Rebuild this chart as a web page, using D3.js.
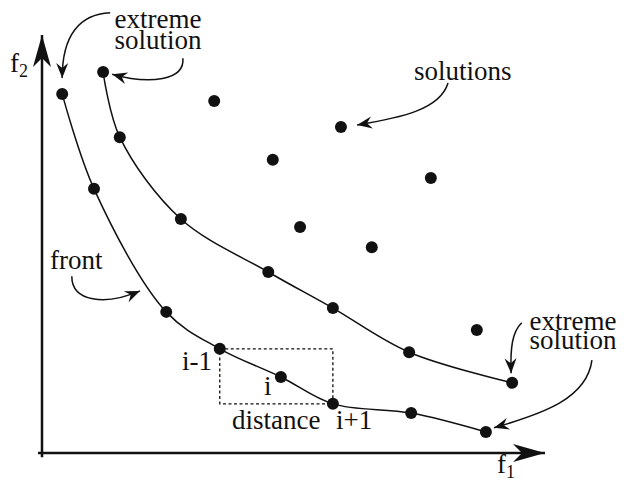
<!DOCTYPE html>
<html>
<head>
<meta charset="utf-8">
<script src="https://cdn.jsdelivr.net/npm/d3@7.9.0/dist/d3.min.js"></script>
<style>
  html, body { margin: 0; padding: 0; background: #fff; }
  svg { display: block; }
</style>
</head>
<body>
<svg width="624" height="485"></svg>
<script>
// objective values (f1, f2), arbitrary 0-100 units
const frontLower = [
  [4.0, 85.5], [10.3, 62.9], [24.6, 33.6], [35.2, 24.8],
  [47.3, 18.1], [57.6, 11.7], [73.1, 9.5], [87.9, 5.0]
];
const frontUpper = [
  [12.1, 90.7], [15.4, 75.2], [27.5, 55.7], [44.8, 43.1],
  [57.6, 34.5], [72.7, 24.0], [93.1, 16.7]
];
const otherSolutions = [
  [34.1, 83.8], [59.2, 77.6], [45.7, 69.8], [77.0, 65.5],
  [51.1, 53.8], [65.3, 49.0], [86.1, 29.3]
];
// annotation arrows: start, control1, control2, tip (same units)
const arrowPaths = [
  [[13.5, 104.8], [7.5, 104.5], [4.0, 99.5], [4.0, 89.3]],
  [[27.9, 94.0], [28.3, 88.8], [21.4, 87.6], [13.9, 90.2]],
  [[80.4, 88.1], [78.8, 81.7], [70.9, 79.8], [62.4, 78.1]],
  [[5.9, 42.1], [5.9, 36.0], [12.5, 35.0], [19.4, 38.6]],
  [[95.0, 31.0], [93.1, 28.8], [92.7, 25.0], [92.9, 19.0]],
  [[108.9, 22.1], [107.9, 13.1], [99.6, 9.5], [89.5, 6.0]]
];
const crowdIndex = 4; // point i on the lower front

const FONT = '"Liberation Serif"';
const svg = d3.select('svg');
const x = d3.scaleLinear().domain([0, 100]).range([42, 547]);
const y = d3.scaleLinear().domain([0, 100]).range([453, 33]);

const defs = svg.append('defs');
defs.append('marker')
  .attr('id', 'axisHead').attr('markerUnits', 'userSpaceOnUse')
  .attr('viewBox', '-33 -10 34 20').attr('markerWidth', 34).attr('markerHeight', 20)
  .attr('refX', 0).attr('refY', 0).attr('orient', 'auto')
  .append('path').attr('d', 'M0,0 L-32,-9 L-23,0 L-32,9 Z').attr('fill', '#111');
defs.append('marker')
  .attr('id', 'head').attr('markerUnits', 'userSpaceOnUse')
  .attr('viewBox', '-16 -7 17 14').attr('markerWidth', 17).attr('markerHeight', 14)
  .attr('refX', 0).attr('refY', 0).attr('orient', 'auto')
  .append('path').attr('d', 'M0,0 L-15,-6 L-10,0 L-15,6 Z').attr('fill', '#111');

// axes
svg.append('line')
  .attr('x1', x(0)).attr('y1', y(-1)).attr('x2', x(0)).attr('y2', y(100) + 2)
  .attr('stroke', '#111').attr('stroke-width', 2.5).attr('marker-end', 'url(#axisHead)');
svg.append('line')
  .attr('x1', x(-0.8)).attr('y1', y(0)).attr('x2', x(100) - 2).attr('y2', y(0))
  .attr('stroke', '#111').attr('stroke-width', 2.5).attr('marker-end', 'url(#axisHead)');

// crowding distance box
const pPrev = frontLower[crowdIndex - 1], pNext = frontLower[crowdIndex + 1];
svg.append('rect')
  .attr('x', x(pPrev[0])).attr('y', y(pPrev[1]))
  .attr('width', x(pNext[0]) - x(pPrev[0])).attr('height', y(pNext[1]) - y(pPrev[1]))
  .attr('fill', 'none').attr('stroke', '#111').attr('stroke-width', 1.3)
  .attr('stroke-dasharray', '3,2.5');

// fronts
const line = d3.line().x(d => x(d[0])).y(d => y(d[1])).curve(d3.curveCatmullRom.alpha(0.5));
[frontLower, frontUpper].forEach(f => {
  svg.append('path').attr('d', line(f))
    .attr('fill', 'none').attr('stroke', '#111').attr('stroke-width', 1.5);
});

// points
svg.selectAll('circle.pt')
  .data([...frontLower, ...frontUpper, ...otherSolutions])
  .join('circle')
  .attr('class', 'pt')
  .attr('cx', d => x(d[0])).attr('cy', d => y(d[1])).attr('r', 6)
  .attr('fill', '#111');

// annotation arrows
arrowPaths.forEach(a => {
  const p = d3.path();
  p.moveTo(x(a[0][0]), y(a[0][1]));
  p.bezierCurveTo(x(a[1][0]), y(a[1][1]), x(a[2][0]), y(a[2][1]), x(a[3][0]), y(a[3][1]));
  svg.append('path').attr('d', p.toString())
    .attr('fill', 'none').attr('stroke', '#111').attr('stroke-width', 1.5)
    .attr('marker-end', 'url(#head)');
});

// labels
function label(txt, px, py, anchor) {
  return svg.append('text').attr('x', px).attr('y', py)
    .style('font-family', FONT).attr('fill', '#111')
    .attr('text-anchor', anchor || 'start').attr('font-size', 27).text(txt);
}
function twoLines(a, b, px, py, gap) {
  const t = svg.append('text').attr('x', px).attr('y', py)
    .style('font-family', FONT).attr('fill', '#111')
    .attr('text-anchor', 'middle').attr('font-size', 27);
  t.append('tspan').attr('x', px).text(a);
  t.append('tspan').attr('x', px).attr('dy', gap).text(b);
}
twoLines('extreme', 'solution', 158, 28, 21);
twoLines('extreme', 'solution', 573, 330, 19);
label('solutions', 414, 80);
label('front', 50, 269);
label('i-1', 212, 370, 'end');
label('i', 264, 395);
label('distance', 232, 429);
label('i+1', 336, 429);

const f2 = label('f', 10, 72);
f2.append('tspan').attr('font-size', 18).attr('dy', 5).text('2');
const f1 = label('f', 497, 473);
f1.append('tspan').attr('font-size', 18).attr('dy', 5).text('1');
</script>
</body>
</html>
